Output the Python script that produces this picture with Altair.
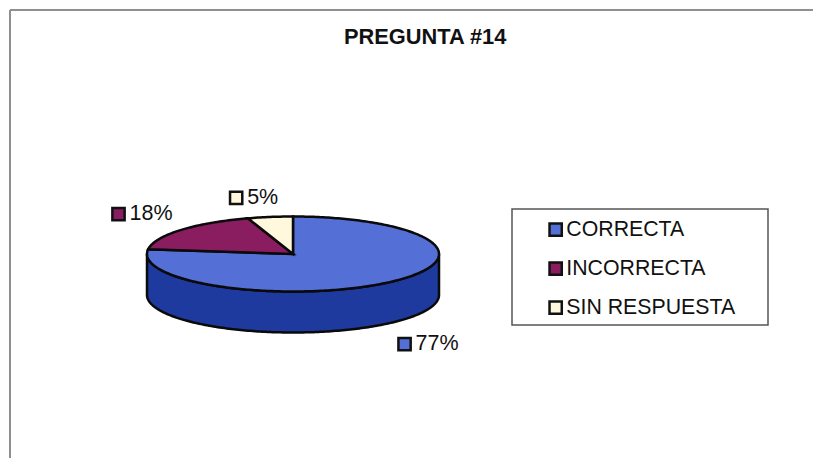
import math
import altair as alt
import pandas as pd

categories = ["CORRECTA", "INCORRECTA", "SIN RESPUESTA"]
shares = [77, 18, 5]
share_labels = ["77%", "18%", "5%"]
colors = ["#5470D6", "#8A1C60", "#FFF8DC"]
rim_color = "#1E3A9E"
title_text = "PREGUNTA #14"

W, H = 805, 450
CX, CY, RX, RY, DEPTH = 285, 246, 146, 37.5, 41
label_dx = [15, -62, -34]
label_dy = [62, -16, -19]
FONT = "Liberation Sans"


def pt(deg, drop=0):
    a = math.radians(deg)
    return [CX + RX * math.sin(a), CY - RY * math.cos(a) + drop]


def arc(a, b, drop=0):
    n = max(2, int(abs(b - a)) + 1)
    return [pt(a + (b - a) * i / (n - 1), drop) for i in range(n)]


faces, rims, labels = [], [], []
start = 0.0
for name, share, text, dx, dy in zip(categories, shares, share_labels, label_dx, label_dy):
    end = start + share * 3.6
    ring = [[CX, CY]] + arc(start, end) + [[CX, CY]]
    faces.append({"type": "Feature", "properties": {"name": name},
                  "geometry": {"type": "Polygon", "coordinates": [ring]}})
    lo, hi = max(start, 90), min(end, 270)
    if hi > lo:
        rim = arc(lo, hi) + arc(hi, lo, DEPTH)
        rim.append(rim[0])
        rims.append({"type": "Feature", "properties": {"name": name},
                     "geometry": {"type": "Polygon", "coordinates": [rim]}})
    mx, my = pt((start + end) / 2)
    labels.append({"name": name, "label": text, "x": mx + dx, "y": my + dy})
    start = end

proj = dict(type="identity", scale=1, translate=[0, 0])
color_scale = alt.Scale(domain=categories, range=colors)
xs = alt.X("x:Q", scale=alt.Scale(domain=[0, W], range=[0, W]), axis=None)
ys = alt.Y("y:Q", scale=alt.Scale(domain=[0, H], range=[0, H]), axis=None)
one = pd.DataFrame({"a": [0]})

frame_top = alt.Chart(one).mark_rule(color="#8f8f8f", strokeWidth=2).encode(
    x=alt.value(2), x2=alt.value(W), y=alt.value(2))
frame_left = alt.Chart(one).mark_rule(color="#8f8f8f", strokeWidth=2).encode(
    x=alt.value(2), y=alt.value(2), y2=alt.value(H))
legend_box = alt.Chart(one).mark_rect(fill="white", stroke="#555555", strokeWidth=1.5).encode(
    x=alt.value(504), x2=alt.value(760), y=alt.value(201), y2=alt.value(317))

rim_layer = alt.Chart(alt.InlineData(values=rims)).mark_geoshape(
    fill=rim_color, stroke="#0a0a0a", strokeWidth=2.5).project(**proj)
face_layer = alt.Chart(alt.InlineData(values=faces)).mark_geoshape(
    stroke="#0a0a0a", strokeWidth=2.5).encode(
    color=alt.Color("properties.name:N", scale=color_scale, legend=alt.Legend(
        title=None, orient="none", legendX=537, legendY=211, symbolType="square",
        symbolSize=150, symbolStrokeColor="#111111", symbolStrokeWidth=2.5,
        labelFont=FONT, labelFontSize=21.3, labelColor="#111111", rowPadding=16,
        labelOffset=0, labelLimit=260))
).project(**proj)

lab = pd.DataFrame(labels)
swatches = alt.Chart(lab).mark_square(size=150, opacity=1, stroke="#111111", strokeWidth=2.5).encode(
    x=xs, y=ys, color=alt.Color("name:N", scale=color_scale, legend=None))
label_text = alt.Chart(lab).mark_text(
    align="left", baseline="middle", dx=11, font=FONT, fontSize=21.5, color="#111111"
).encode(x=xs, y=ys, text="label:N")

chart = alt.layer(frame_top, frame_left, legend_box, rim_layer, face_layer, swatches, label_text).properties(
    width=W, height=H,
    padding=0,
    autosize=alt.AutoSizeParams(type="none"),
    background="white",
    title=alt.TitleParams(title_text, anchor="start", frame="group", dx=336, offset=-41,
                          font=FONT, fontSize=21.8, fontWeight="bold", color="#111111"),
).configure_view(stroke=None)

chart.save("out.html", embed_options={"renderer": "svg", "actions": False})
